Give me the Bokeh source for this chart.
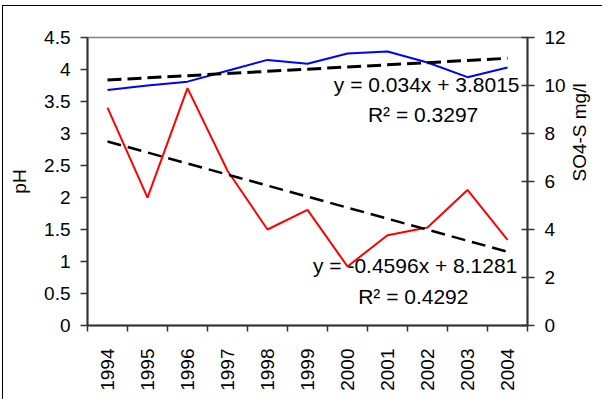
from math import pi
from bokeh.plotting import figure
from bokeh.models import (Range1d, LinearAxis, FixedTicker, CustomJSTickFormatter, Label)
from bokeh.embed import file_html
from bokeh.resources import INLINE

# ---- data ----
years = ["1994", "1995", "1996", "1997", "1998", "1999",
         "2000", "2001", "2002", "2003", "2004"]
ph_values = [3.68, 3.75, 3.81, 3.98, 4.15, 4.09, 4.25, 4.28, 4.11, 3.88, 4.03]
so4_values = [9.08, 5.33, 9.89, 6.45, 4.00, 4.82, 2.46, 3.76, 4.08, 5.65, 3.57]
ph_trend = [0.034, 3.8015]        # slope, intercept
so4_trend = [-0.4596, 8.1281]     # slope, intercept
ph_ticks = [0, 0.5, 1, 1.5, 2, 2.5, 3, 3.5, 4, 4.5]
so4_ticks = [0, 2, 4, 6, 8, 10, 12]
ph_eq = ["y = 0.034x + 3.8015", "R\u00b2 = 0.3297"]
so4_eq = ["y = -0.4596x + 8.1281", "R\u00b2 = 0.4292"]
ph_title = "pH"
so4_title = "SO4-S mg/l"

n = len(years)
xc = [i + 0.5 for i in range(n)]          # category centres
idx = list(range(1, n + 1))               # trendline x (1..n)

FONT = "Liberation Sans"
AX = "#333333"

p = figure(width=600, height=394, x_range=Range1d(0, n), y_range=Range1d(0, 4.5),
           output_backend="svg", toolbar_location=None,
           min_border_left=84, min_border_right=73, min_border_top=31, min_border_bottom=75,
           x_axis_type=None, y_axis_type=None)
p.margin = (5, 0, 0, 2)
p.styles = {"border-top": "1px solid black", "border-left": "1px solid black"}
p.xgrid.visible = False
p.ygrid.visible = False
p.outline_line_color = "#808080"
p.outline_line_width = 1.5
p.background_fill_color = "white"
p.border_fill_color = "white"
p.extra_y_ranges = {"so4": Range1d(0, 12)}

# left axis
yl = LinearAxis(ticker=FixedTicker(ticks=ph_ticks),
                formatter=CustomJSTickFormatter(code="return String(tick);"))
yl.axis_label = ph_title
yl.axis_label_text_font = FONT
yl.axis_label_text_font_style = "normal"
yl.axis_label_text_font_size = "19px"
yl.axis_label_text_color = "black"
yl.axis_label_standoff = 11
yl.major_label_text_font = FONT
yl.major_label_text_font_size = "19px"
yl.major_label_text_color = "black"
yl.major_label_standoff = 10
yl.major_tick_in = 0
yl.major_tick_out = 7
yl.minor_tick_line_color = None
yl.axis_line_color = AX
yl.axis_line_width = 2
yl.major_tick_line_color = AX
yl.major_tick_line_width = 1.5
p.add_layout(yl, "left")

# right axis
yr = LinearAxis(y_range_name="so4", ticker=FixedTicker(ticks=so4_ticks),
                formatter=CustomJSTickFormatter(code="return String(tick);"))
yr.axis_label = so4_title
yr.axis_label_text_font = FONT
yr.axis_label_text_font_style = "normal"
yr.axis_label_text_font_size = "19px"
yr.axis_label_text_color = "black"
yr.axis_label_standoff = 11
try:
    yr.axis_label_orientation = pi / 2
except Exception:
    pass
yr.major_label_text_font = FONT
yr.major_label_text_font_size = "19px"
yr.major_label_text_color = "black"
yr.major_label_standoff = 10
yr.major_tick_in = 6
yr.major_tick_out = 7
yr.minor_tick_line_color = None
yr.axis_line_color = AX
yr.axis_line_width = 2
yr.major_tick_line_color = AX
yr.major_tick_line_width = 1.5
p.add_layout(yr, "right")

# bottom axis: labels at centres, tick marks at boundaries (minor ticks)
xb = LinearAxis(ticker=FixedTicker(ticks=xc, minor_ticks=list(range(n + 1))),
                formatter=CustomJSTickFormatter(args=dict(years=years),
                                                code="return years[Math.round(tick - 0.5)];"))
xb.major_label_orientation = pi / 2
xb.major_label_text_font = FONT
xb.major_label_text_font_size = "19px"
xb.major_label_text_color = "black"
xb.major_label_standoff = 17
xb.major_tick_line_color = None
xb.major_tick_in = 0
xb.major_tick_out = 0
xb.minor_tick_in = 0
xb.minor_tick_out = 6
xb.minor_tick_line_color = AX
xb.minor_tick_line_width = 1.5
xb.axis_line_color = AX
xb.axis_line_width = 2
p.add_layout(xb, "below")

# series
p.line(xc, ph_values, line_color="#0000FF", line_width=2)
p.line(xc, so4_values, line_color="#FF0000", line_width=2, y_range_name="so4")

# trendlines (Excel linear trend, x = 1..n)
ph_fit = [ph_trend[0] * i + ph_trend[1] for i in (idx[0], idx[-1])]
so4_fit = [so4_trend[0] * i + so4_trend[1] for i in (idx[0], idx[-1])]
p.line([xc[0], xc[-1]], ph_fit, line_color="black", line_width=3, line_dash="14 6")
p.line([xc[0], xc[-1]], so4_fit, line_color="black", line_width=2.5, line_dash="14 7",
       y_range_name="so4")

# equations
def lab(x, y, t, align, yname="default"):
    p.add_layout(Label(x=x, y=y, text=t, text_font=FONT, text_font_size="21px",
                       text_color="black", text_align=align, text_baseline="middle",
                       y_range_name=yname))

lab(10.80, 3.77, ph_eq[0], "right")
lab(8.39, 3.30, ph_eq[1], "center")
lab(10.745, 2.5, so4_eq[0], "right", "so4")
lab(8.145, 1.21, so4_eq[1], "center", "so4")

open("out.html", "w").write(file_html(p, INLINE))
